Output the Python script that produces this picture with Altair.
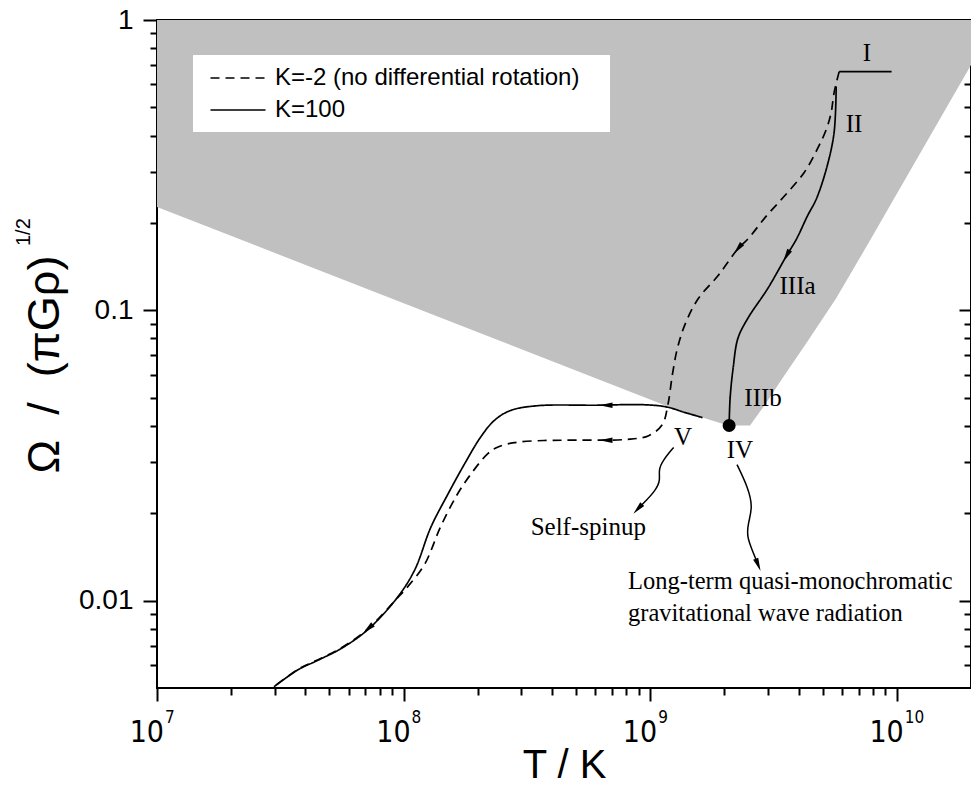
import altair as alt
import pandas as pd

# ---------------- data ----------------
# K = 100 track (solid), from point I down to low temperature
solid_T = [9.53e9, 5.84e9, 5.68e9, 5.57e9, 5.22e9, 4.72e9, 4.35e9, 3.92e9, 3.57e9, 3.00e9,
           2.49e9, 2.27e9, 2.17e9, 2.11e9, 2.09e9, 1.63e9, 1.39e9, 1.16e9, 9.33e8, 6.04e8,
           3.47e8, 2.70e8, 2.33e8, 2.05e8, 1.76e8, 1.51e8, 1.29e8, 1.11e8, 9.49e7, 7.18e7,
           5.60e7, 4.40e7, 3.76e7, 2.98e7]
solid_O = [0.664, 0.664, 0.590, 0.410, 0.314, 0.242, 0.212, 0.176, 0.154, 0.119,
           0.0939, 0.0802, 0.0633, 0.0500, 0.0401, 0.0427, 0.0444, 0.0465, 0.0473, 0.0471,
           0.0469, 0.0451, 0.0417, 0.0365, 0.0294, 0.0232, 0.0179, 0.01277, 0.01032, 0.00796,
           0.00685, 0.00618, 0.00580, 0.00505]
# segment of each solid point: I plateau / II-IIIb descent / IV-V cooling
solid_seg = ["a", "a"] + ["b"] * 13 + ["c"] * 19

# K = -2 track (dashed)
dashed_T = [5.84e9, 5.57e9, 5.42e9, 5.18e9, 4.76e9, 4.22e9, 3.51e9, 2.97e9, 2.49e9, 2.27e9,
            1.89e9, 1.57e9, 1.39e9, 1.29e9, 1.23e9, 1.18e9, 1.12e9, 9.86e8, 7.98e8, 5.03e8,
            3.70e8, 2.81e8, 2.39e8, 2.18e8, 1.87e8, 1.65e8, 1.41e8, 1.22e8, 1.04e8, 9.31e7,
            7.18e7, 5.60e7, 4.40e7, 3.76e7, 2.98e7]
dashed_O = [0.664, 0.562, 0.480, 0.420, 0.359, 0.299, 0.248, 0.212, 0.176, 0.163,
            0.132, 0.110, 0.0902, 0.0741, 0.0599, 0.0473, 0.0404, 0.0370, 0.0359, 0.0357,
            0.0356, 0.0350, 0.0337, 0.0319, 0.0272, 0.0232, 0.0179, 0.01339, 0.01117, 0.01008,
            0.00800, 0.00688, 0.00620, 0.00582, 0.00505]

# lower boundary of the grey region
bound_T = [1e7, 1.16e9, 1.39e9, 1.63e9, 2.07e9, 2.54e9, 2.92e9, 3.51e9, 4.35e9, 5.68e9,
           7.85e9, 9.73e9, 2e10]
bound_O = [0.227, 0.0469, 0.0444, 0.0427, 0.0401, 0.0401, 0.0473, 0.0599, 0.0783, 0.110,
           0.176, 0.242, 0.70]

# wavy annotation arrows
wavyV_T = [1.245e9, 1.125e9, 1.08e9, 1.10e9, 1.055e9, 9.33e8, 8.91e8]
wavyV_O = [0.0337, 0.0304, 0.0281, 0.0260, 0.0240, 0.0215, 0.0207]
wavyIV_T = [2.25e9, 2.49e9, 2.61e9, 2.49e9, 2.47e9, 2.59e9, 2.74e9]
wavyIV_O = [0.0294, 0.0246, 0.0210, 0.0184, 0.01657, 0.01496, 0.01328]

# arrow heads on the tracks
arrow_T = [3.57e9, 2.27e9, 6.62e8, 6.62e8, 7.18e7, 8.91e8, 2.74e9]
arrow_O = [0.154, 0.163, 0.0471, 0.0357, 0.0080, 0.0207, 0.01328]
arrow_angle = [209, 219, 270, 270, 228, 223, 158]

# point IV
dot_T = [2.09e9]
dot_O = [0.0401]

# phase labels
label_text = ["I", "II", "IIIa", "IIIb", "IV", "V", "Self-spinup"]
label_T = [7.57e9, 6.71e9, 3.96e9, 2.87e9, 2.31e9, 1.36e9, 5.61e8]
label_O = [0.770, 0.437, 0.121, 0.0500, 0.0329, 0.0365, 0.0179]
note_text = ["Long-term quasi-monochromatic", "gravitational wave radiation"]
note_T = [8.13e8, 8.13e8]
note_O = [0.0116, 0.00902]

x_major = [1e7, 1e8, 1e9, 1e10]
x_exp = ["7", "8", "9", "10"]
x_minor = [2e7, 3e7, 4e7, 5e7, 6e7, 7e7, 8e7, 9e7,
           2e8, 3e8, 4e8, 5e8, 6e8, 7e8, 8e8, 9e8,
           2e9, 3e9, 4e9, 5e9, 6e9, 7e9, 8e9, 9e9]
y_major = [0.01, 0.1, 1]
y_minor = [0.006, 0.007, 0.008, 0.009,
           0.02, 0.03, 0.04, 0.05, 0.06, 0.07, 0.08, 0.09,
           0.2, 0.3, 0.4, 0.5, 0.6, 0.7, 0.8, 0.9]

K2 = "K=-2 (no differential rotation)"
K100 = "K=100"
NB = "\u00a0"
Y_TITLE = "Ω" + NB * 2 + "/" + NB * 2 + "(πGρ)"

# ---------------- tables ----------------
tracks = pd.DataFrame(
    [{"T": t, "O": o, "series": K100, "seg": s, "i": i}
     for i, (t, o, s) in enumerate(zip(solid_T, solid_O, solid_seg))]
    + [{"T": t, "O": o, "series": K2, "seg": "d", "i": i}
       for i, (t, o) in enumerate(zip(dashed_T, dashed_O))]
)
bound = pd.DataFrame({"T": bound_T, "O": bound_O})
wavy = pd.DataFrame(
    [{"T": t, "O": o, "w": "V", "i": i} for i, (t, o) in enumerate(zip(wavyV_T, wavyV_O))]
    + [{"T": t, "O": o, "w": "IV", "i": i} for i, (t, o) in enumerate(zip(wavyIV_T, wavyIV_O))]
)
arrows = pd.DataFrame({"T": arrow_T, "O": arrow_O, "angle": arrow_angle})
dot = pd.DataFrame({"T": dot_T, "O": dot_O})
labels = pd.DataFrame({"T": label_T, "O": label_O, "text": label_text})
notes = pd.DataFrame({"T": note_T, "O": note_O, "text": note_text})
xticks = pd.DataFrame({"T": x_major, "base": ["10"] * 4, "exp": x_exp})

W, H = 814, 668
SANS = "Liberation Sans"
NARROW = "Liberation Sans Narrow, DejaVu Sans Condensed, Liberation Sans"
SERIF = "Liberation Serif"

xs = alt.Scale(type="log", domain=[1e7, 2e10], nice=False)
ys = alt.Scale(type="log", domain=[0.005, 1], nice=False)

tick_common = dict(domain=False, grid=False, tickColor="black", tickWidth=2)

ax_bottom_major = alt.Axis(orient="bottom", values=x_major, tickSize=13, labels=False,
                           title="T / K", titleFont=SANS, titleFontSize=40,
                           titleFontWeight="normal", titleColor="black",
                           titleY=89, titleBaseline="alphabetic", **tick_common)
ax_bottom_minor = alt.Axis(orient="bottom", values=x_minor, tickSize=7, labels=False,
                           title=None, **tick_common)
ax_top_major = alt.Axis(orient="bottom", offset=-H, values=x_major, tickSize=14,
                        labels=False, title=None, **tick_common)
ax_top_minor = alt.Axis(orient="bottom", offset=-H, values=x_minor, tickSize=7,
                        labels=False, title=None, **tick_common)
ax_left_major = alt.Axis(orient="left", values=y_major, tickSize=14, labelFont=SANS,
                         labelFontSize=28, labelColor="black", labelPadding=10,
                         labelExpr="datum.value == 1 ? '1' : (datum.value == 0.1 ? '0.1' : '0.01')",
                         title=Y_TITLE, titleFont=SANS, titleFontSize=45,
                         titleFontWeight="normal", titleColor="black", titleAngle=270,
                         titleX=-99, titleY=344, titleBaseline="alphabetic",
                         titleAlign="center", **tick_common)
ax_left_minor = alt.Axis(orient="left", values=y_minor, tickSize=7, labels=False,
                         title=None, **tick_common)
ax_right_major = alt.Axis(orient="left", offset=-W, values=y_major, tickSize=12,
                          labels=False, title=None, **tick_common)
ax_right_minor = alt.Axis(orient="left", offset=-W, values=y_minor, tickSize=7,
                          labels=False, title=None, **tick_common)

# grey region
area = alt.Chart(bound).mark_area(color="#c0c0c0", opacity=1).encode(
    x=alt.X("T:Q", scale=xs, axis=ax_bottom_major),
    y=alt.Y("O:Q", scale=ys, axis=ax_left_major),
    y2=alt.datum(1),
)

# white legend box
legend_box = alt.Chart(pd.DataFrame({"a": [0]})).mark_rect(fill="white").encode(
    x=alt.value(36), x2=alt.value(453), y=alt.value(35), y2=alt.value(112)
)

lines = alt.Chart(tracks).mark_line(color="black", strokeWidth=1.7,
                                    interpolate="catmull-rom").encode(
    x=alt.X("T:Q", scale=xs, axis=ax_bottom_minor),
    y=alt.Y("O:Q", scale=ys, axis=ax_left_minor),
    strokeDash=alt.StrokeDash(
        "series:N",
        scale=alt.Scale(domain=[K2, K100], range=[[9, 6], [1, 0]]),
        legend=alt.Legend(title=None, orient="none", legendX=69, legendY=46,
                          symbolType="M-2.5,0L2.5,0", symbolSize=484, symbolStrokeWidth=1.7,
                          symbolStrokeColor="black", labelFont=SANS, labelFontSize=24,
                          labelColor="black", labelOffset=25, rowPadding=8, padding=0,
                          labelLimit=600),
    ),
    detail="seg:N",
    order=alt.Order("i:Q"),
)

wavy_lines = alt.Chart(wavy).mark_line(color="black", strokeWidth=1.5, interpolate="basis").encode(
    x=alt.X("T:Q", scale=xs, axis=ax_top_major),
    y=alt.Y("O:Q", scale=ys, axis=ax_right_major),
    detail="w:N",
    order=alt.Order("i:Q"),
)

heads = alt.Chart(arrows).mark_point(
    shape="M0,-1L0.42,1L-0.42,1Z", filled=True, color="black", opacity=1, size=170
).encode(
    x=alt.X("T:Q", scale=xs, axis=ax_top_minor),
    y=alt.Y("O:Q", scale=ys, axis=ax_right_minor),
    angle=alt.Angle("angle:Q", scale=None),
)

dot_layer = alt.Chart(dot).mark_point(shape="circle", filled=True, color="black",
                                      opacity=1, size=170).encode(
    x=alt.X("T:Q", scale=xs, axis=None),
    y=alt.Y("O:Q", scale=ys, axis=None),
)

label_layer = alt.Chart(labels).mark_text(font=SERIF, fontSize=25, color="black",
                                          align="center", baseline="middle").encode(
    x=alt.X("T:Q", scale=xs, axis=None),
    y=alt.Y("O:Q", scale=ys, axis=None),
    text="text:N",
)

note_layer = alt.Chart(notes).mark_text(font=SERIF, fontSize=24.5, color="black",
                                        align="left", baseline="middle").encode(
    x=alt.X("T:Q", scale=xs, axis=None),
    y=alt.Y("O:Q", scale=ys, axis=None),
    text="text:N",
)

tick_base = alt.Chart(xticks).mark_text(font=NARROW, fontSize=30, color="black",
                                        align="right", baseline="alphabetic", dx=7).encode(
    x=alt.X("T:Q", scale=xs, axis=None),
    y=alt.value(H + 54),
    text="base:N",
)
tick_exp = alt.Chart(xticks).mark_text(font=NARROW, fontSize=17, color="black",
                                       align="left", baseline="alphabetic", dx=8).encode(
    x=alt.X("T:Q", scale=xs, axis=None),
    y=alt.value(H + 35),
    text="exp:N",
)

ysup = alt.Chart(pd.DataFrame({"t": ["1/2"]})).mark_text(
    font=SANS, fontSize=20, color="black", align="left", baseline="alphabetic", angle=270
).encode(x=alt.value(-127), y=alt.value(226), text="t:N")

chart = alt.layer(
    area, legend_box, lines, wavy_lines, heads, dot_layer, label_layer, note_layer,
    tick_base, tick_exp, ysup
).resolve_axis(
    x="independent", y="independent"
).properties(
    width=W, height=H, autosize="none",
    padding={"left": 149, "top": 12, "right": 0, "bottom": 96},
    background="white",
).configure_view(
    stroke="black", strokeWidth=2
)

chart.save("out.html", embed_options={"renderer": "svg", "actions": False})
